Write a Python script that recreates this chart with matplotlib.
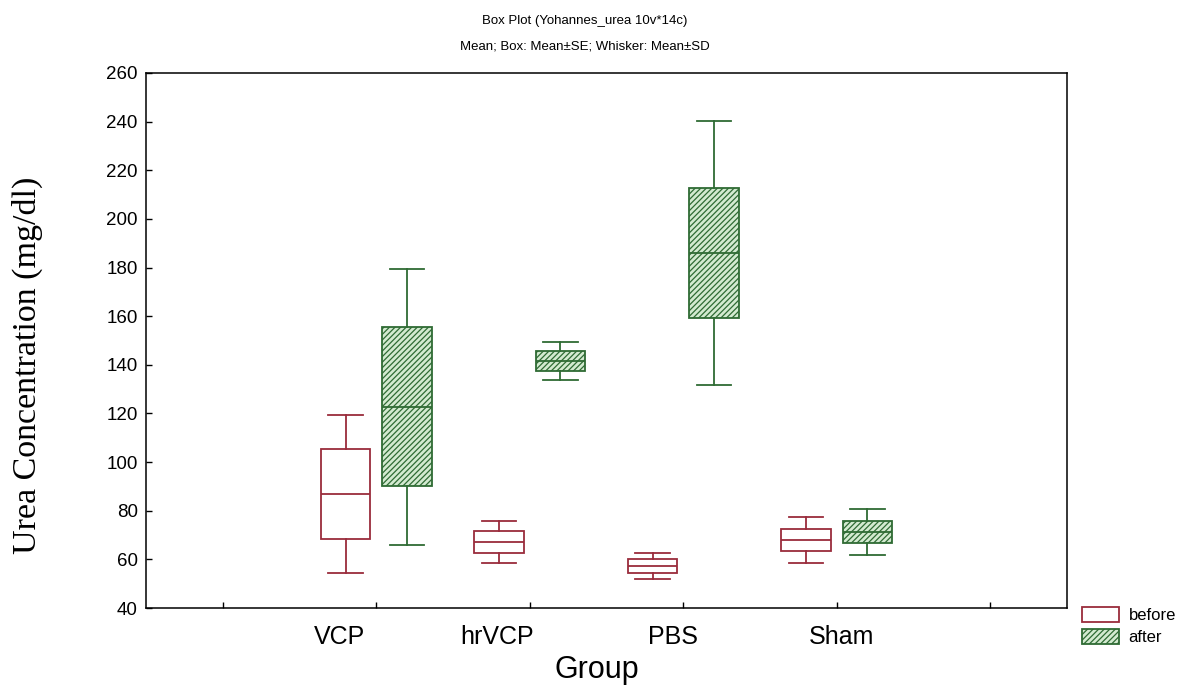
import matplotlib
matplotlib.use("Agg")
import matplotlib.pyplot as plt
from matplotlib.patches import Patch

groups = ["VCP", "hrVCP", "PBS", "Sham"]
series = ["before", "after"]
before_mean = [87.0, 67.2, 57.3, 68.0]
before_se = [18.5, 4.5, 2.7, 4.5]
before_sd = [32.5, 8.5, 5.5, 9.4]
after_mean = [122.7, 141.6, 186.0, 71.2]
after_se = [32.7, 4.1, 26.6, 4.5]
after_sd = [56.8, 7.8, 54.4, 9.6]
yticks = list(range(40, 261, 20))

fig = plt.figure(figsize=(11.89, 6.91), dpi=100)
ax = fig.add_axes([0.1228, 0.1201, 0.7746, 0.7743])

red = "#9a2c3c"
green = "#2f6b34"
fill_g = "#d3ead0"

def stats(m, se, sd):
    return [dict(med=mi, q1=mi - s, q3=mi + s, whislo=mi - d, whishi=mi + d, fliers=[])
            for mi, s, d in zip(m, se, sd)]

centers = [2, 3, 4, 5]
off = 0.2
w = 0.32
plt.rcParams['hatch.color'] = green
plt.rcParams['hatch.linewidth'] = 0.9

ax.bxp(stats(before_mean, before_se, before_sd), positions=[c - off for c in centers],
       widths=w, patch_artist=True, showfliers=False, manage_ticks=False,
       boxprops=dict(facecolor="white", edgecolor=red, linewidth=1.3),
       medianprops=dict(color=red, linewidth=1.3),
       whiskerprops=dict(color=red, linewidth=1.3),
       capprops=dict(color=red, linewidth=1.3), capwidths=w * 0.7)
ax.bxp(stats(after_mean, after_se, after_sd), positions=[c + off for c in centers],
       widths=w, patch_artist=True, showfliers=False, manage_ticks=False,
       boxprops=dict(facecolor=fill_g, edgecolor=green, linewidth=1.3, hatch="//////"),
       medianprops=dict(color=green, linewidth=1.3),
       whiskerprops=dict(color=green, linewidth=1.3),
       capprops=dict(color=green, linewidth=1.3), capwidths=w * 0.7)

ax.set_xlim(0.5, 6.5)
ax.set_ylim(40, 260)
ax.set_yticks(yticks)
ax.set_yticklabels([str(v) for v in yticks], fontsize=13.5, family="Liberation Sans")
ax.tick_params(axis="y", direction="in", length=4, width=1, pad=6)

# tick marks at category slots
ax.set_xticks([1, 2, 3, 4, 5, 6], minor=True)
ax.tick_params(axis="x", which="minor", direction="in", length=4, width=1)
# group labels as placed in the reference
label_x = [1.76, 2.79, 3.93, 5.03]
ax.set_xticks(label_x)
ax.set_xticklabels(groups, fontsize=18, family="Liberation Sans")
ax.tick_params(axis="x", which="major", length=0, pad=12)

for s in ax.spines.values():
    s.set_linewidth(1.1)

ax.set_ylabel("Urea Concentration (mg/dl)", fontsize=24.5, family="Liberation Serif")
ax.yaxis.set_label_coords(-0.112, 0.454)
ax.set_xlabel("Group", fontsize=22, family="Liberation Sans")
ax.xaxis.set_label_coords(0.49, -0.087)

fig.text(0.492, 0.970, "Box Plot (Yohannes_urea 10v*14c)", ha="center", va="center",
         fontsize=9.5, family="Liberation Sans")
fig.text(0.492, 0.933, "Mean; Box: Mean\u00b1SE; Whisker: Mean\u00b1SD", ha="center", va="center",
         fontsize=9.5, family="Liberation Sans")

handles = [Patch(facecolor="white", edgecolor=red, linewidth=1.3),
           Patch(facecolor=fill_g, edgecolor=green, linewidth=1.3, hatch="//////")]
fig.legend(handles, series, loc="upper left", bbox_to_anchor=(0.910, 0.122),
           frameon=False, handlelength=2.2, handleheight=1.0,
           handletextpad=0.6, labelspacing=0.35, borderaxespad=0, borderpad=0,
           prop=dict(family="Liberation Sans", size=12))

fig.savefig("out.png", dpi=100)
